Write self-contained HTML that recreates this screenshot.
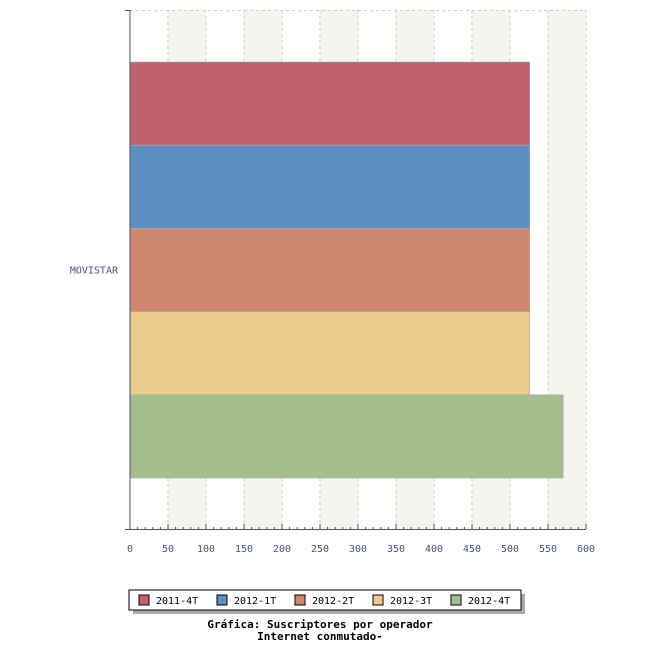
<!DOCTYPE html>
<html><head><meta charset="utf-8"><style>
body{margin:0;background:#fff;width:650px;height:650px;overflow:hidden}
svg text{font-family:"DejaVu Sans Mono","Liberation Mono",monospace}
</style></head><body>
<svg id="c" width="650" height="650"></svg>
<script>
const categories=["MOVISTAR"];
const seriesNames=["2011-4T","2012-1T","2012-2T","2012-3T","2012-4T"];
const seriesValues=[526,526,526,526,570];
const seriesColors=["#bf616a","#5b8fbf","#d08770","#ebcb8b","#a3be8c"];
const tickLabels=[0,50,100,150,200,250,300,350,400,450,500,550,600];
const NS="http://www.w3.org/2000/svg",svg=document.getElementById('c');
const x0=130,x1=586,yTop=10,yBot=529,xMax=600;
const X=v=>x0+v/xMax*(x1-x0);
function mk(t,a,p){const e=document.createElementNS(NS,t);for(const k in a)e.setAttribute(k,a[k]);(p||svg).appendChild(e);return e;}
// bands
for(let i=0;i<tickLabels.length-1;i++){
 if(i%2==1){const r=mk('rect',{x:X(tickLabels[i]),y:yTop,width:X(tickLabels[i+1])-X(tickLabels[i]),height:yBot-yTop,fill:'#f5f5f0'});
 }
}
for(let i=1;i<tickLabels.length;i++){
 const l=mk('line',{x1:X(tickLabels[i]),x2:X(tickLabels[i]),y1:yTop,y2:yBot,stroke:'#ccc','stroke-dasharray':'3,3'});
 
}
mk('line',{x1:x0,x2:x1,y1:yTop+0.5,y2:yTop+0.5,stroke:'#ccc','stroke-dasharray':'3,3'});
// bars
const bandH=(yBot-yTop)/categories.length, groupTop=62, barH=83.2;
seriesValues.forEach((v,i)=>{
 const y=groupTop+i*barH;
 const r=mk('rect',{x:x0,y:y,width:X(v)-x0,height:barH,fill:seriesColors[i],stroke:'#aaa','stroke-width':0.6});
 
});
// axes
mk('line',{x1:x0,x2:x0,y1:yTop,y2:yBot,stroke:'#4a5078','stroke-width':1});
mk('line',{x1:x0-5,x2:x0,y1:yTop+0.5,y2:yTop+0.5,stroke:'#4a5078'});
mk('line',{x1:x0-5,x2:x1,y1:yBot+0.5,y2:yBot+0.5,stroke:'#4a5078'});
for(let v=0;v<=xMax;v+=10){
 const big=v%50==0;
 mk('line',{x1:X(v),x2:X(v),y1:yBot-(big?5:2),y2:yBot,stroke:'#4a5078'});
}
tickLabels.forEach(v=>{
 const t=mk('text',{x:X(v),y:552,'font-size':10,fill:'#4a5078','text-anchor':'middle'});t.textContent=v;
 
});
categories.forEach((c,i)=>{
 const t=mk('text',{x:118,y:yTop+bandH*(i+0.5)+4,'font-size':10,fill:'#4a5078','text-anchor':'end'});t.textContent=c;
 
});
// legend
mk('rect',{x:133,y:594,width:392,height:20,fill:'#aaa'});
const lg=mk('rect',{x:129,y:590,width:392,height:20,fill:'#fff',stroke:'#000'});

seriesNames.forEach((n,i)=>{
 const lx=139+i*78;
 const s=mk('rect',{x:lx,y:595,width:10,height:10,fill:seriesColors[i],stroke:'#000'});
 
 const t=mk('text',{x:lx+17,y:604,'font-size':10,fill:'#000'});t.textContent=n;
 
});
['Gráfica: Suscriptores por operador','Internet conmutado-'].forEach((s,i)=>{
 const t=mk('text',{x:320,y:628+i*12,'font-size':11,'font-weight':'bold',fill:'#000','text-anchor':'middle'});t.textContent=s;
 
});
</script></body></html>
